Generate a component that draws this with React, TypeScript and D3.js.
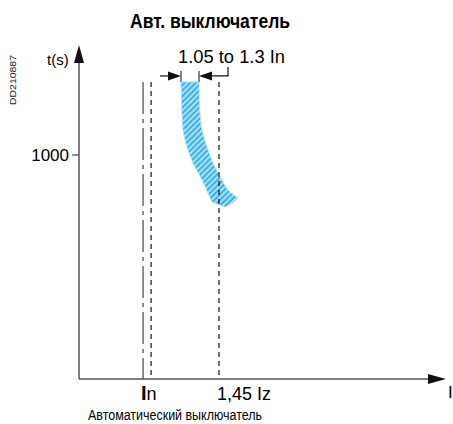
import React from "react";
import * as d3 from "d3";

const title = "Авт. выключатель";
const footer = "Автоматический выключатель";
const docId = "DD210887";
const yLabel = "t(s)";
const xLabel = "I";
const yTicks = [1000];
const annotation = "1.05 to 1.3 In";

// current (arbitrary units, 0..100 along the axis) and time (s)
const inValue = 17.5;
const dashedValue = 19.7;
const izValue = 38.25;
const xMarkers = [
  { main: "I", sub: "n", value: inValue },
  { main: "1,45 Iz", sub: "", value: izValue },
];
const lineTop = 9500;

const bandLeftI = [27.87, 28.14, 28.42, 29.51, 31.15, 33.61, 35.25, 36.34];
const bandLeftT = [9500, 3651, 2160, 1279, 781, 462, 310, 235];
const bandBottomI = [39.89, 42.08];
const bandBottomT = [201, 228];
const bandRightI = [43.44, 40.71, 39.07, 36.61, 34.97, 33.61, 33.06, 32.79];
const bandRightT = [265, 340, 462, 781, 1279, 2160, 3651, 9500];

const W = 453;
const H = 424;
const FONT = "Liberation Sans, Arial, sans-serif";

export default function App() {
  const x = d3.scaleLinear().domain([0, 100]).range([79, 445]);
  const y = d3.scaleLog().domain([1, 29700]).range([379, 45]);

  const x0 = x(0);
  const y0 = y(1);
  const edge = d3
    .line<[number, number]>()
    .x((d) => x(d[0]))
    .y((d) => y(d[1]))
    .curve(d3.curveCatmullRom);
  const left = bandLeftI.map((v, i) => [v, bandLeftT[i]] as [number, number]);
  const right = bandRightI.map((v, i) => [v, bandRightT[i]] as [number, number]);
  const bottom = bandBottomI.map((v, i) => [v, bandBottomT[i]] as [number, number]);
  const leftPath = edge(left) as string;
  const rightPath = (edge(right) as string).replace(/^M/, "L");
  const bottomPath = bottom.map((p) => `L${x(p[0])},${y(p[1])}`).join("");
  const bandPath = leftPath + bottomPath + rightPath + "Z";

  const topY = y(lineTop);
  const bl = x(bandLeftI[0]);
  const br = x(bandRightI[bandRightI.length - 1]);
  const ay = topY - 6;

  return (
    <svg width={W} height={H} style={{ display: "block", position: "absolute", left: 0, top: 0 }}>
      <defs>
        <pattern id="hatch" patternUnits="userSpaceOnUse" width={4} height={4} patternTransform="rotate(45)">
          <rect width={4} height={4} fill="#a6def6" />
          <line x1={1} y1={0} x2={1} y2={4} stroke="#22a8e0" strokeWidth={1.6} />
        </pattern>
      </defs>
      <rect width={W} height={H} fill="#fff" />

      <text x={210} y={28} textAnchor="middle" fontFamily={FONT} fontWeight="bold" fontSize={20} textLength={160} lengthAdjust="spacingAndGlyphs">
        {title}
      </text>

      <text transform="translate(16,105) rotate(-90)" fontFamily={FONT} fontSize={9} textLength={50} lengthAdjust="spacingAndGlyphs" fill="#222">
        {docId}
      </text>

      {/* band */}
      <path d={bandPath} fill="url(#hatch)" stroke="#b5e4f8" strokeWidth={1} />

      {/* vertical marker lines */}
      <line x1={x(inValue)} x2={x(inValue)} y1={topY} y2={y0} stroke="#555" strokeWidth={1.3} strokeDasharray="32,5,4,5" />
      <line x1={x(dashedValue)} x2={x(dashedValue)} y1={topY} y2={y0} stroke="#111" strokeWidth={1.2} strokeDasharray="5,4" />
      <line x1={x(izValue)} x2={x(izValue)} y1={topY} y2={y0} stroke="#111" strokeWidth={1.2} strokeDasharray="5,4" />

      {/* axes */}
      <line x1={x0} x2={x0} y1={y0} y2={60} stroke="#555" strokeWidth={1.5} />
      <path d={`M${x0},45L${x0 - 5},63L${x0 + 5},63Z`} fill="#111" />
      <line x1={x0} x2={430} y1={y0} y2={y0} stroke="#555" strokeWidth={1.5} />
      <path d={`M446,${y0}L428,${y0 - 5}L428,${y0 + 5}Z`} fill="#111" />

      <text x={47} y={65} fontFamily={FONT} fontSize={15}>{yLabel}</text>
      <text x={448} y={398} fontFamily={FONT} fontSize={17}>{xLabel}</text>

      {yTicks.map((t) => (
        <g key={t}>
          <line x1={x0 - 7} x2={x0} y1={y(t)} y2={y(t)} stroke="#555" strokeWidth={1.3} />
          <text x={69} y={y(t) + 6} textAnchor="end" fontFamily={FONT} fontSize={17}>{t}</text>
        </g>
      ))}

      {xMarkers.map((m) => (
        <text key={m.main} x={x(m.value) - 2} y={400} fontFamily={FONT} fontSize={18}>
          {m.sub ? (
            <>
              <tspan fontSize={20} fontWeight="bold">{m.main}</tspan>
              <tspan>{m.sub}</tspan>
            </>
          ) : (
            m.main
          )}
        </text>
      ))}

      {/* annotation arrows */}
      <text x={178} y={63} fontFamily={FONT} fontSize={18} textLength={107} lengthAdjust="spacingAndGlyphs">
        {annotation}
      </text>
      <line x1={bl} x2={bl} y1={ay - 5} y2={topY} stroke="#111" strokeWidth={1} />
      <line x1={br} x2={br} y1={ay - 5} y2={topY} stroke="#111" strokeWidth={1} />
      <line x1={bl - 21} x2={bl - 10} y1={ay} y2={ay} stroke="#111" strokeWidth={1.2} />
      <path d={`M${bl},${ay}L${bl - 13},${ay - 4.5}L${bl - 13},${ay + 4.5}Z`} fill="#111" />
      <polyline points={`${br + 10},${ay} ${br + 29},${ay} ${br + 29},${ay - 9}`} fill="none" stroke="#111" strokeWidth={1.2} />
      <path d={`M${br},${ay}L${br + 13},${ay - 4.5}L${br + 13},${ay + 4.5}Z`} fill="#111" />

      <text x={88} y={420} fontFamily={FONT} fontSize={14} textLength={174} lengthAdjust="spacingAndGlyphs">
        {footer}
      </text>
    </svg>
  );
}
